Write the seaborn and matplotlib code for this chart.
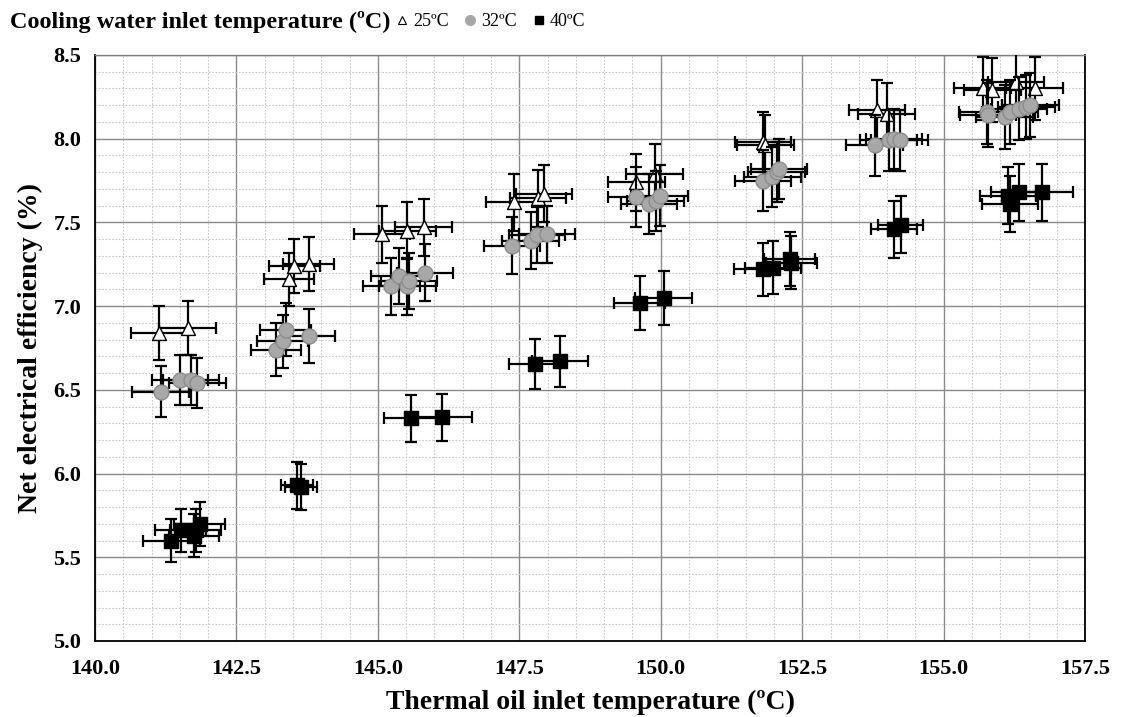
import matplotlib
matplotlib.use("Agg")
import matplotlib.pyplot as plt
from matplotlib.lines import Line2D
from matplotlib.ticker import MultipleLocator, FormatStrFormatter
import seaborn as sns
import pandas as pd

# Measured points: thermal oil inlet temperature (degC) vs net electrical efficiency (%)
t25_x = [141.14, 141.64, 143.43, 143.52, 143.78, 145.07, 145.52, 145.81,
         147.41, 147.83, 147.94, 149.57, 149.89, 151.81, 151.85,
         153.82, 153.99, 155.69, 155.86, 156.28, 156.61]
t25_y = [6.84, 6.87, 7.16, 7.24, 7.25, 7.43, 7.45, 7.47,
         7.62, 7.645, 7.67, 7.74, 7.79, 7.98, 7.96,
         8.17, 8.15, 8.30, 8.29, 8.34, 8.30]
t25_xerr = [0.50, 0.50, 0.45, 0.45, 0.45, 0.50, 0.50, 0.50,
            0.50, 0.50, 0.50, 0.50, 0.50, 0.50, 0.50,
            0.50, 0.50, 0.50, 0.50, 0.50, 0.50]
t25_yerr = [0.16, 0.16, 0.16, 0.16, 0.16, 0.17, 0.17, 0.17,
            0.17, 0.17, 0.17, 0.17, 0.18, 0.18, 0.18,
            0.18, 0.18, 0.19, 0.19, 0.19, 0.19]

t32_x = [141.16, 141.50, 141.70, 141.81, 143.20, 143.32, 143.37, 143.79,
         145.24, 145.38, 145.52, 145.55, 145.83, 147.37, 147.70, 147.81, 147.99,
         149.57, 149.79, 149.91, 149.98, 151.81, 151.97, 152.05, 152.09,
         153.78, 154.03, 154.12, 154.22, 155.77, 155.78, 156.08, 156.17,
         156.33, 156.46, 156.53]
t32_y = [6.49, 6.56, 6.56, 6.54, 6.74, 6.79, 6.86, 6.82,
         7.12, 7.18, 7.12, 7.15, 7.20, 7.36, 7.39, 7.425, 7.43,
         7.65, 7.61, 7.63, 7.66, 7.75, 7.77, 7.80, 7.82,
         7.96, 7.99, 8.00, 7.99, 8.16, 8.14, 8.13, 8.16,
         8.18, 8.19, 8.20]
t32_xerr = [0.50] * 4 + [0.45] * 4 + [0.50] * 28
t32_yerr = [0.15] * 4 + [0.16] * 4 + [0.17] * 9 + [0.18] * 8 + [0.18] * 4 + [0.19] * 7

t40_x = [141.35, 141.52, 141.75, 141.78, 141.85, 143.57, 143.64,
         145.58, 146.14, 147.77, 148.22, 149.63, 150.05,
         151.80, 151.98, 152.28, 152.31, 154.12, 154.24,
         156.14, 156.17, 156.33, 156.73]
t40_y = [5.60, 5.66, 5.63, 5.66, 5.70, 5.93, 5.92,
         6.33, 6.335, 6.655, 6.67, 7.02, 7.05,
         7.22, 7.23, 7.28, 7.26, 7.46, 7.485,
         7.66, 7.61, 7.68, 7.68]
t40_xerr = [0.50, 0.45, 0.45, 0.45, 0.45, 0.28, 0.28,
            0.47, 0.53, 0.45, 0.50, 0.45, 0.50,
            0.50, 0.50, 0.45, 0.45, 0.40, 0.40,
            0.50, 0.50, 0.50, 0.55]
t40_yerr = [0.13, 0.13, 0.13, 0.13, 0.13, 0.14, 0.14,
            0.14, 0.14, 0.15, 0.15, 0.16, 0.16,
            0.16, 0.16, 0.16, 0.16, 0.17, 0.17,
            0.17, 0.17, 0.17, 0.17]

series_labels = ["25ºC", "32ºC", "40ºC"]

sns.set_theme(style="white")
plt.rcParams["font.family"] = ["Liberation Serif", "DejaVu Serif"]
plt.rcParams["text.color"] = "black"
plt.rcParams["axes.labelcolor"] = "black"
plt.rcParams["xtick.color"] = "black"
plt.rcParams["ytick.color"] = "black"

frames = []
for lab, xs, ys, xe, ye in [
    (series_labels[0], t25_x, t25_y, t25_xerr, t25_yerr),
    (series_labels[1], t32_x, t32_y, t32_xerr, t32_yerr),
    (series_labels[2], t40_x, t40_y, t40_xerr, t40_yerr),
]:
    frames.append(pd.DataFrame({"oil": xs, "eff": ys, "xerr": xe, "yerr": ye,
                                "water": lab}))
df = pd.concat(frames, ignore_index=True)

fig = plt.figure(figsize=(11.21, 7.17), dpi=100)
ax = fig.add_axes([0.0847, 0.106, 0.8833, 0.8173])

styles = {
    "25ºC": dict(marker="^", face="white", edge="black", s=100),
    "32ºC": dict(marker="o", face="#a8a8a8", edge="#8c8c8c", s=115),
    "40ºC": dict(marker="s", face="black", edge="black", s=95),
}

z = 3
for lab in series_labels:
    sub = df[df["water"] == lab]
    ax.errorbar(sub["oil"], sub["eff"], xerr=sub["xerr"], yerr=sub["yerr"],
                fmt="none", ecolor="black", elinewidth=1.6, capsize=4,
                capthick=1.6, zorder=z)
    st = styles[lab]
    sns.scatterplot(data=sub, x="oil", y="eff", ax=ax, marker=st["marker"],
                    color=st["face"], edgecolor=st["edge"], linewidth=1.0,
                    s=st["s"], legend=False, zorder=z + 1)
    z += 2

ax.set_xlim(140.0, 157.5)
ax.set_ylim(5.0, 8.5)
ax.xaxis.set_major_locator(MultipleLocator(2.5))
ax.xaxis.set_minor_locator(MultipleLocator(0.5))
ax.yaxis.set_major_locator(MultipleLocator(0.5))
ax.yaxis.set_minor_locator(MultipleLocator(0.1))
ax.xaxis.set_major_formatter(FormatStrFormatter("%.1f"))
ax.yaxis.set_major_formatter(FormatStrFormatter("%.1f"))

ax.grid(which="major", color="#8a8a8a", linewidth=1.0, linestyle="-")
ax.grid(which="minor", color="#c8c8c8", linewidth=0.8, linestyle=(0, (1.5, 1.5)))
ax.set_axisbelow(True)

for side in ["left", "bottom", "right"]:
    ax.spines[side].set_color("black")
    ax.spines[side].set_linewidth(1.3)
ax.spines["top"].set_color("#808080")
ax.spines["top"].set_linewidth(1.0)

ax.tick_params(which="major", direction="out", length=6, width=1.2,
               color="black", labelcolor="black", labelsize=16, pad=4)
ax.tick_params(which="minor", length=0)
for t in ax.get_xticklabels() + ax.get_yticklabels():
    t.set_fontweight("bold")
ax.tick_params(axis="x", pad=7)

ax.set_xlabel("Thermal oil inlet temperature (ºC)", fontsize=20,
              fontweight="bold", labelpad=8, color="black")
ax.set_ylabel("Net electrical efficiency (%)", fontsize=20,
              fontweight="bold", labelpad=7, color="black")

fig.text(0.009, 0.970, "Cooling water inlet temperature (ºC)", fontsize=17.5,
         fontweight="bold", ha="left", va="center", color="black")

handles = [
    Line2D([], [], linestyle="none", marker="^", markersize=6,
           markerfacecolor="white", markeredgecolor="black", markeredgewidth=0.8),
    Line2D([], [], linestyle="none", marker="o", markersize=7,
           markerfacecolor="#a8a8a8", markeredgecolor="#a8a8a8"),
    Line2D([], [], linestyle="none", marker="s", markersize=6,
           markerfacecolor="black", markeredgecolor="black"),
]
fig.legend(handles, series_labels, loc="center left",
           bbox_to_anchor=(0.354, 0.970), ncol=3, frameon=False,
           fontsize=13, handlelength=0.6, handletextpad=0.3,
           columnspacing=0.9, borderaxespad=0, borderpad=0)

fig.savefig("out.png", dpi=100)
